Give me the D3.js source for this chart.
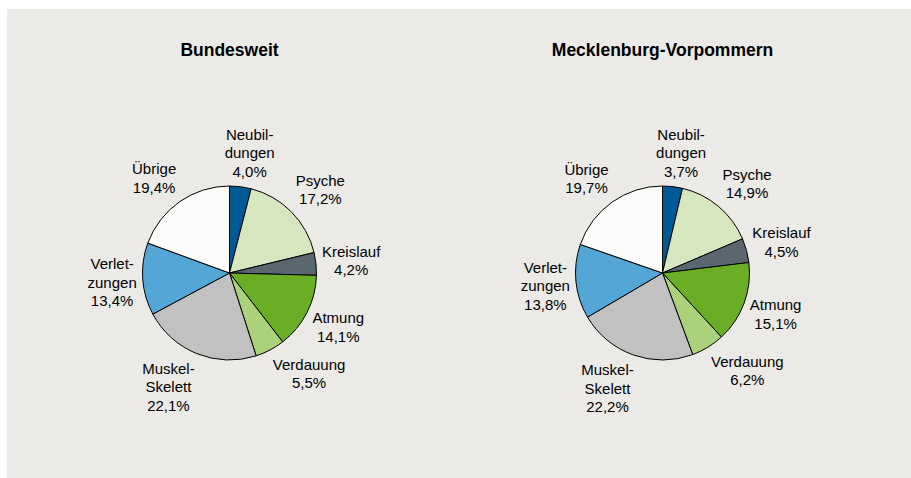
<!DOCTYPE html>
<html>
<head>
<meta charset="utf-8">
<script src="https://cdn.jsdelivr.net/npm/d3@7"></script>
<style>
  body { margin: 0; background: #ffffff; }
  text { font-family: "Liberation Sans", Arial, sans-serif; fill: #000; }
</style>
</head>
<body>
<div id="chart"></div>
<script>
// Datos: diagnosegruppen (Anteile in %)
var kategorien = ["Neubildungen", "Psyche", "Kreislauf", "Atmung", "Verdauung", "Muskel-Skelett", "Verletzungen", "Übrige"];
var labelZeilen = [["Neubil-", "dungen"], ["Psyche"], ["Kreislauf"], ["Atmung"], ["Verdauung"], ["Muskel-", "Skelett"], ["Verlet-", "zungen"], ["Übrige"]];
var titel = ["Bundesweit", "Mecklenburg-Vorpommern"];
var werteBund = [4.0, 17.2, 4.2, 14.1, 5.5, 22.1, 13.4, 19.4];
var werteMV = [3.7, 14.9, 4.5, 15.1, 6.2, 22.2, 13.8, 19.7];
var farben = ["#005a96", "#d6e6bf", "#5b6770", "#6aae26", "#abd17a", "#c1c1c1", "#53a6d6", "#fbfbfa"];

var svgWidth = 911, svgHeight = 478;
var radius = 87;
var lineH = 18.5;

var svg = d3.select("#chart")
    .append("svg")
    .attr("width", svgWidth)
    .attr("height", svgHeight);

// Fondo gris
svg.append("rect")
    .attr("x", 7)
    .attr("y", 9)
    .attr("width", svgWidth - 7)
    .attr("height", svgHeight - 9)
    .attr("fill", "#ebeae6");

var color = d3.scaleOrdinal().domain(kategorien).range(farben);

var pie = d3.pie()
    .sort(null)
    .value(function(d) { return d.wert; });

var arc = d3.arc().innerRadius(0).outerRadius(radius);

function fmt(v) { return v.toFixed(1).replace(".", ",") + "%"; }
function clamp(v) { return Math.max(-1, Math.min(1, v)); }

function zeichneTorte(werte, titelText, cx, cy) {
  var daten = kategorien.map(function(k, i) {
    return { kat: k, wert: werte[i], zeilen: labelZeilen[i].concat([fmt(werte[i])]) };
  });

  var g = svg.append("g")
      .attr("transform", "translate(" + cx + "," + cy + ")");

  g.append("text")
      .attr("x", 0)
      .attr("y", 56 - cy)
      .attr("text-anchor", "middle")
      .style("font-size", "17.5px")
      .style("font-weight", "bold")
      .text(titelText);

  var arcs = pie(daten);

  g.selectAll("path")
      .data(arcs)
      .enter().append("path")
      .attr("d", arc)
      .attr("fill", function(d) { return color(d.data.kat); })
      .attr("stroke", "#000")
      .attr("stroke-width", 1);

  // Etiquetas fuera del borde (estilo Excel)
  arcs.forEach(function(d) {
    var lbl = g.append("text")
        .attr("text-anchor", "middle")
        .style("font-size", "15px");
    var tspans = d.data.zeilen.map(function(z) {
      return lbl.append("tspan").attr("x", 0).text(z);
    });
    var w = d3.max(tspans, function(t) { return t.node().getComputedTextLength(); });
    var n = d.data.zeilen.length;
    var h = n * lineH;
    var a = (d.startAngle + d.endAngle) / 2;
    var s = Math.sin(a), c = Math.cos(a);
    var r = radius + 6;
    var lx = r * s + (w / 2) * clamp(s * 2.7);
    var ly = -r * c - (h / 2) * clamp(c * 1.4);
    tspans.forEach(function(t, i) {
      t.attr("x", lx)
       .attr("y", ly + (i - (n - 1) / 2) * lineH + 5.4);
    });
  });
}

zeichneTorte(werteBund, titel[0], 229.5, 273);
zeichneTorte(werteMV, titel[1], 662.5, 273);
</script>
</body>
</html>
